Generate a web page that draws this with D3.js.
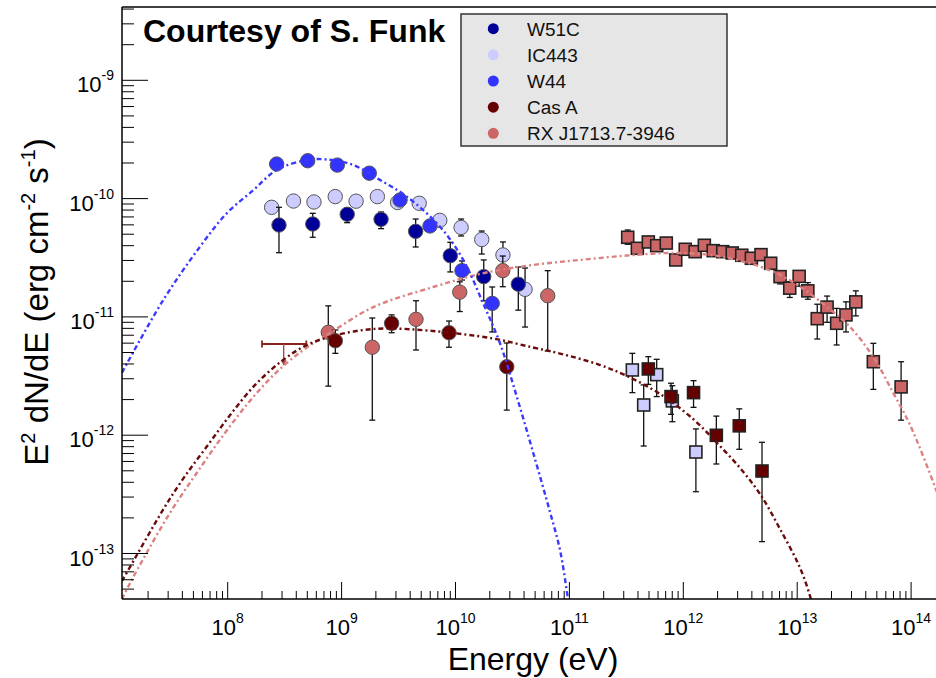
<!DOCTYPE html>
<html lang="en">
<head>
<meta charset="UTF-8">
<title>SNR gamma-ray spectra</title>
<script src="https://d3js.org/d3.v7.min.js"></script>
<style>
  body { margin: 0; background: #fff; }
  svg { display: block; font-family: "Liberation Sans", Arial, Helvetica, sans-serif; }
</style>
</head>
<body>
<svg id="chart" width="936" height="678"></svg>
<script>
// ---- values ----
const seriesNames  = ["W51C", "IC443", "W44", "Cas A", "RX J1713.7-3946"];
const seriesColors = ["#000099", "#ccccff", "#3333ff", "#660000", "#cc6666"];

// GeV points (circles)
const w51cE  = [2.82e8, 5.58e8, 1.12e9, 2.22e9, 4.47e9, 9.00e9, 1.77e10, 3.56e10];
const w51cF  = [5.98e-11, 6.10e-11, 7.37e-11, 6.68e-11, 5.29e-11, 3.29e-11, 2.19e-11, 1.89e-11];
const w51cHi = [8.44e-11, 7.51e-11, 8.33e-11, 7.70e-11, 6.72e-11, 4.27e-11, 3.03e-11, 2.64e-11];
const w51cLo = [3.49e-11, 4.71e-11, 6.26e-11, 5.57e-11, 3.90e-11, 2.40e-11, 1.37e-11, 1.14e-11];

const ic443E  = [2.43e8, 3.78e8, 5.72e8, 8.79e8, 1.34e9, 2.06e9, 3.10e9, 4.80e9, 7.28e9, 1.12e10, 1.70e10, 2.61e10, 4.08e10];
const ic443F  = [8.44e-11, 9.54e-11, 9.36e-11, 1.04e-10, 9.51e-11, 1.04e-10, 9.27e-11, 9.13e-11, 6.55e-11, 5.70e-11, 4.51e-11, 3.34e-11, 1.71e-11];
const ic443Hi = [null, null, null, null, null, null, null, null, 7.0e-11, 6.72e-11, 5.32e-11, 4.30e-11, 2.59e-11];
const ic443Lo = [null, null, null, null, null, null, null, null, 6.2e-11, 4.83e-11, 3.40e-11, 3.03e-11, 8.21e-12];

const w44E  = [2.69e8, 5.04e8, 9.17e8, 1.75e9, 3.26e9, 5.97e9, 1.14e10, 2.10e10];
const w44F  = [1.96e-10, 2.09e-10, 1.92e-10, 1.64e-10, 9.73e-11, 5.87e-11, 2.46e-11, 1.30e-11];
const w44Hi = [null, null, null, null, null, null, 2.97e-11, 1.79e-11];
const w44Lo = [null, null, null, null, null, null, 2.05e-11, 7.46e-12];

const casaE  = [8.81e8, 2.75e9, 8.77e9, 2.82e10];
const casaF  = [6.29e-12, 8.83e-12, 7.35e-12, 3.79e-12];
const casaHi = [7.75e-12, 1.04e-11, 9.23e-12, 6.02e-12];
const casaLo = [4.92e-12, 7.35e-12, 5.54e-12, 1.63e-12];

const rxE  = [7.64e8, 1.86e9, 4.50e9, 1.09e10, 2.60e10, 6.45e10];
const rxF  = [7.41e-12, 5.54e-12, 9.54e-12, 1.62e-11, 2.46e-11, 1.51e-11];
const rxHi = [1.24e-11, 9.79e-12, 1.37e-11, 1.98e-11, 3.27e-11, 2.46e-11];
const rxLo = [2.60e-12, 1.34e-12, 5.25e-12, 1.11e-11, 1.80e-11, 5.15e-12];

// Cas A upper limit: [E low, E centre, E high], flux level, arrow tip
const ulE = [2.0e8, 3.1e8, 4.9e8];
const ulF = [5.9e-12, 3.9e-12];

// TeV points (squares)
const ic443TeVE  = [3.57e11, 4.49e11, 5.84e11, 8.01e11, 1.29e12];
const ic443TeVF  = [3.56e-12, 1.80e-12, 3.25e-12, 1.95e-12, 7.21e-13];
const ic443TeVHi = [4.92e-12, 2.66e-12, 4.38e-12, 2.62e-12, 1.13e-12];
const ic443TeVLo = [2.29e-12, 8.10e-13, 2.12e-12, 1.30e-12, 3.33e-13];

const casaTeVE  = [4.93e11, 7.80e11, 1.23e12, 1.95e12, 3.10e12, 4.91e12];
const casaTeVF  = [3.63e-12, 2.12e-12, 2.29e-12, 9.98e-13, 1.20e-12, 4.98e-13];
const casaTeVHi = [4.61e-12, 2.75e-12, 2.89e-12, 1.45e-12, 1.67e-12, 8.71e-13];
const casaTeVLo = [2.69e-12, 1.50e-12, 1.72e-12, 5.71e-13, 7.60e-13, 1.26e-13];

const rxTeVE = [3.25e11, 3.95e11, 4.93e11, 5.84e11, 7.09e11, 8.58e11, 1.04e12, 1.27e12, 1.53e12,
                1.83e12, 2.22e12, 2.69e12, 3.26e12, 3.96e12, 4.81e12, 5.85e12, 7.07e12, 8.60e12,
                1.04e13, 1.24e13, 1.50e13, 1.83e13, 2.22e13, 2.68e13, 3.27e13, 4.66e13, 8.17e13];
const rxTeVF = [4.71e-11, 3.80e-11, 4.30e-11, 4.00e-11, 4.21e-11, 3.03e-11, 3.73e-11, 3.56e-11, 4.03e-11,
                3.63e-11, 3.56e-11, 3.47e-11, 3.32e-11, 3.13e-11, 3.36e-11, 2.84e-11, 2.19e-11, 1.75e-11,
                2.20e-11, 1.66e-11, 9.66e-12, 1.21e-11, 8.83e-12, 1.04e-11, 1.34e-11, 4.18e-12, 2.56e-12];
const rxTeVHi = [5.43e-11, null, null, null, null, null, null, null, null, null, null, null, null, null, null, null,
                 2.41e-11, 1.98e-11, 2.40e-11, 1.95e-11, 1.28e-11, 1.50e-11, 1.18e-11, 1.34e-11, 1.66e-11, 5.98e-12, 4.18e-12];
const rxTeVLo = [4.11e-11, null, null, null, null, null, null, null, null, null, null, null, null, null, null, null,
                 1.90e-11, 1.46e-11, 1.82e-11, 1.41e-11, 6.50e-12, 9.00e-12, 5.79e-12, 7.46e-12, 1.02e-11, 2.44e-12, 1.34e-12];

// model curves, sampled off the figure
const w44CurveE = [1.18e7, 2.72e7, 5.71e7, 9.80e7, 1.68e8, 2.69e8, 4.94e8, 7.40e8, 1.27e9, 2.17e9, 3.73e9,
                   7.31e9, 1.17e10, 1.75e10, 2.46e10, 3.45e10, 4.79e10, 6.76e10, 8.27e10, 9.72e10, 1.05e11];
const w44CurveF = [3.38e-12, 1.39e-11, 3.92e-11, 7.51e-11, 1.18e-10, 1.745e-10, 2.12e-10, 2.14e-10, 1.92e-10, 1.44e-10, 1.04e-10,
                   5.79e-11, 3.03e-11, 1.30e-11, 5.98e-12, 2.12e-12, 7.21e-13, 2.24e-13, 1.07e-13, 4.12e-14, 2.49e-14];

const casaCurveE = [1.18e7, 1.54e7, 2.08e7, 2.87e7, 4.22e7, 6.71e7, 1.05e8, 1.74e8, 3.06e8, 4.97e8, 8.41e8, 1.45e9,
                    2.50e9, 6.35e9, 2.13e10, 4.79e10, 8.27e10, 1.86e11, 3.21e11, 6.25e11, 1.22e12, 1.98e12, 3.15e12,
                    4.72e12, 7.07e12, 1.06e13, 1.32e13, 1.46e13];
const casaCurveF = [5.86e-14, 9.16e-14, 1.52e-13, 2.57e-13, 4.52e-13, 8.26e-13, 1.48e-12, 2.66e-12, 4.32e-12, 5.79e-12, 6.90e-12, 7.68e-12,
                    7.98e-12, 7.60e-12, 6.57e-12, 5.51e-12, 4.90e-12, 3.92e-12, 3.16e-12, 2.23e-12, 1.37e-12, 8.59e-13, 5.28e-13,
                    3.18e-13, 1.61e-13, 7.54e-14, 4.12e-14, 2.74e-14];

const rxCurveE = [1.18e7, 1.39e7, 1.94e7, 3.11e7, 5.34e7, 9.15e7, 1.57e8, 2.69e8, 4.61e8, 7.91e8, 1.90e9, 6.39e9,
                  1.75e10, 4.82e10, 1.24e11, 3.19e11, 7.64e11, 1.72e12, 3.37e12, 6.17e12, 1.06e13, 1.82e13, 2.91e13,
                  4.66e13, 6.98e13, 9.79e13, 1.66e14, 2.20e14];
const rxCurveF = [4.12e-14, 5.63e-14, 1.01e-13, 2.20e-13, 4.79e-13, 1.00e-12, 1.95e-12, 3.42e-12, 5.25e-12, 7.31e-12, 1.21e-11, 1.79e-11,
                  2.34e-11, 2.75e-11, 3.03e-11, 3.30e-11, 3.47e-11, 3.34e-11, 2.93e-11, 2.41e-11, 1.80e-11, 1.22e-11, 8.21e-12,
                  4.58e-12, 2.27e-12, 1.22e-12, 3.44e-13, 1.58e-13];

const xTickDecades = [8, 9, 10, 11, 12, 13, 14];
const yTickDecades = [-13, -12, -11, -10, -9];

// ---- layout ----
const W = 936, H = 678;
const plotLeft = 122, plotTop = 7, plotBottom = 599, plotRight = 960;

const svg = d3.select("#chart");

const x = d3.scaleLog().domain([1e8, 1e14]).range([227.7, 911.1]);
const y = d3.scaleLog().domain([1e-13, 1e-9]).range([553.5, 80.3]);

svg.append("defs").append("clipPath").attr("id", "plotclip")
  .append("rect")
  .attr("x", plotLeft).attr("y", plotTop)
  .attr("width", plotRight - plotLeft).attr("height", plotBottom - plotTop);

const plot = svg.append("g").attr("clip-path", "url(#plotclip)");

function toPoints(E, F, Hi, Lo) {
  return E.map((e, i) => ({ e, f: F[i], hi: Hi ? Hi[i] : null, lo: Lo ? Lo[i] : null }));
}

function drawSeries(pts, color, shape) {
  const g = plot.append("g");
  const withBars = pts.filter(d => d.hi != null);
  g.selectAll("line.bar").data(withBars).join("line")
    .attr("x1", d => x(d.e)).attr("x2", d => x(d.e))
    .attr("y1", d => y(d.hi)).attr("y2", d => y(d.lo))
    .attr("stroke", "#111").attr("stroke-width", 1.3);
  ["hi", "lo"].forEach(k => {
    g.selectAll("line.cap" + k).data(withBars).join("line")
      .attr("x1", d => x(d.e) - 3).attr("x2", d => x(d.e) + 3)
      .attr("y1", d => y(d[k])).attr("y2", d => y(d[k]))
      .attr("stroke", "#111").attr("stroke-width", 1.3);
  });
  if (shape === "circle") {
    g.selectAll("circle").data(pts).join("circle")
      .attr("cx", d => x(d.e)).attr("cy", d => y(d.f)).attr("r", 7.2)
      .attr("fill", color).attr("stroke", "#555").attr("stroke-width", 1);
  } else {
    g.selectAll("rect").data(pts).join("rect")
      .attr("x", d => x(d.e) - 6).attr("y", d => y(d.f) - 6)
      .attr("width", 12).attr("height", 12)
      .attr("fill", color).attr("stroke", "#222").attr("stroke-width", 1.6);
  }
}

// circles (GeV)
drawSeries(toPoints(ic443E, ic443F, ic443Hi, ic443Lo), seriesColors[1], "circle");
drawSeries(toPoints(w51cE, w51cF, w51cHi, w51cLo), seriesColors[0], "circle");
drawSeries(toPoints(w44E, w44F, w44Hi, w44Lo), seriesColors[2], "circle");
drawSeries(toPoints(rxE, rxF, rxHi, rxLo), seriesColors[4], "circle");
drawSeries(toPoints(casaE, casaF, casaHi, casaLo), seriesColors[3], "circle");

// squares (TeV)
drawSeries(toPoints(ic443TeVE, ic443TeVF, ic443TeVHi, ic443TeVLo), seriesColors[1], "square");
drawSeries(toPoints(casaTeVE, casaTeVF, casaTeVHi, casaTeVLo), seriesColors[3], "square");
drawSeries(toPoints(rxTeVE, rxTeVF, rxTeVHi, rxTeVLo), seriesColors[4], "square");

// Cas A upper limit
const ul = plot.append("g").attr("stroke", "#8b2222").attr("stroke-width", 1.8);
ul.append("line").attr("x1", x(ulE[0])).attr("x2", x(ulE[2])).attr("y1", y(ulF[0])).attr("y2", y(ulF[0]));
[ulE[0], ulE[2]].forEach(e => ul.append("line").attr("x1", x(e)).attr("x2", x(e))
  .attr("y1", y(ulF[0]) - 3.5).attr("y2", y(ulF[0]) + 3.5));
ul.append("line").attr("x1", x(ulE[1])).attr("x2", x(ulE[1]))
  .attr("y1", y(ulF[0])).attr("y2", y(ulF[1])).attr("stroke", "#a84848").attr("stroke-width", 1.4);
plot.append("path")
  .attr("d", `M${x(ulE[1]) - 3},${y(ulF[1]) - 5}L${x(ulE[1]) + 3},${y(ulF[1]) - 5}L${x(ulE[1])},${y(ulF[1])}Z`)
  .attr("fill", "#a84848");

// model curves
const line = d3.line().x(d => x(d[0])).y(d => y(d[1])).curve(d3.curveCatmullRom.alpha(0.5));
function drawCurve(E, F, color) {
  plot.append("path")
    .attr("d", line(E.map((e, i) => [e, F[i]])))
    .attr("fill", "none").attr("stroke", color)
    .attr("stroke-width", 2.4).attr("stroke-dasharray", "5,3,2,3");
}
drawCurve(rxCurveE, rxCurveF, "#dc8080");
drawCurve(casaCurveE, casaCurveF, "#6b0a0a");
drawCurve(w44CurveE, w44CurveF, "#3a3aff");

// ---- axes (ROOT-style frame) ----
const axis = svg.append("g").attr("stroke", "#000");
axis.append("line").attr("x1", plotLeft).attr("x2", W).attr("y1", plotTop).attr("y2", plotTop).attr("stroke-width", 1.5);
axis.append("line").attr("x1", plotLeft).attr("x2", W).attr("y1", plotBottom).attr("y2", plotBottom).attr("stroke-width", 1.5);
axis.append("line").attr("x1", plotLeft).attr("x2", plotLeft).attr("y1", plotTop).attr("y2", plotBottom).attr("stroke-width", 1.5);

const xTicks = [];
for (let p = 7; p <= 14; p++) for (let k = 1; k <= 9; k++) {
  const v = k * Math.pow(10, p), px = x(v);
  if (px > plotLeft + 1 && px < W) xTicks.push({ px, major: k === 1 });
}
axis.selectAll("line.xt").data(xTicks).join("line")
  .attr("x1", d => d.px).attr("x2", d => d.px)
  .attr("y1", plotBottom).attr("y2", d => plotBottom - (d.major ? 17 : 8))
  .attr("stroke-width", 1);

const yTicks = [];
for (let p = -14; p <= -9; p++) for (let k = 1; k <= 9; k++) {
  const v = k * Math.pow(10, p), py = y(v);
  if (py > plotTop + 1 && py < plotBottom - 1) yTicks.push({ py, major: k === 1 });
}
axis.selectAll("line.yt").data(yTicks).join("line")
  .attr("x1", plotLeft).attr("x2", d => plotLeft + (d.major ? 26 : 12))
  .attr("y1", d => d.py).attr("y2", d => d.py)
  .attr("stroke-width", 1);

// tick labels
xTickDecades.forEach(p => {
  const t = svg.append("text").attr("x", x(Math.pow(10, p))).attr("y", 635)
    .attr("text-anchor", "middle").attr("font-size", 22);
  t.append("tspan").text("10");
  t.append("tspan").attr("font-size", 14).attr("dy", -12).text(p);
});
yTickDecades.forEach(p => {
  const t = svg.append("text").attr("x", 114).attr("y", y(Math.pow(10, p)) + 12)
    .attr("text-anchor", "end").attr("font-size", 22);
  t.append("tspan").text("10");
  t.append("tspan").attr("font-size", 14).attr("dy", -12).text(String(p));
});

// axis titles
svg.append("text").attr("x", 533).attr("y", 670).attr("text-anchor", "middle")
  .attr("font-size", 32).text("Energy (eV)");

const yt = svg.append("text").attr("transform", "translate(48,302) rotate(-90)")
  .attr("text-anchor", "middle").attr("font-size", 33);
yt.append("tspan").text("E");
yt.append("tspan").attr("font-size", 20).attr("dy", -13).text("2");
yt.append("tspan").attr("dy", 13).text(" dN/dE (erg cm");
yt.append("tspan").attr("font-size", 20).attr("dy", -13).text("-2");
yt.append("tspan").attr("dy", 13).text(" s");
yt.append("tspan").attr("font-size", 20).attr("dy", -13).text("-1");
yt.append("tspan").attr("dy", 13).text(")");

// header text
svg.append("text").attr("x", 143).attr("y", 42).attr("font-size", 32)
  .attr("font-weight", "bold").text("Courtesy of S. Funk");

// legend
const lg = svg.append("g");
lg.append("rect").attr("x", 461).attr("y", 14).attr("width", 266).attr("height", 132)
  .attr("fill", "#e6e6e6").attr("stroke", "#333").attr("stroke-width", 1.5);
seriesNames.forEach((name, i) => {
  const cy = 28.7 + i * 26.15;
  lg.append("circle").attr("cx", 493.3).attr("cy", cy).attr("r", 5.5).attr("fill", seriesColors[i]);
  lg.append("text").attr("x", 527).attr("y", cy + 7).attr("font-size", 19).attr("fill", "#111").text(name);
});
</script>
</body>
</html>
